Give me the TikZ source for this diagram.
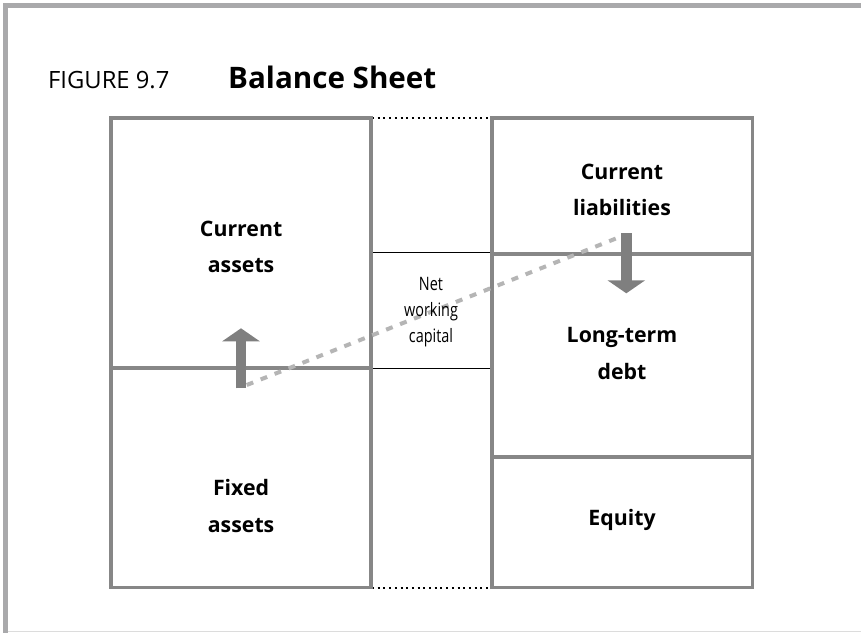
\documentclass[tikz,border=0pt]{standalone}
\usepackage{fontspec}
\setmainfont{Open Sans}
\newfontfamily\condfont[FakeStretch=0.78]{Open Sans}
\usetikzlibrary{arrows.meta}
\definecolor{boxgray}{HTML}{878787}
\definecolor{framegray}{HTML}{A9A9AB}
\definecolor{arrowgray}{HTML}{7F7F7F}
\definecolor{dashgray}{HTML}{B5B5B5}
\definecolor{rulegray}{HTML}{DCDCDC}
\tikzset{
  boxline/.style={draw=boxgray, line width=3.8pt},
  thinline/.style={draw=black, line width=1pt},
  dotline/.style={draw=black, line width=2pt, dash pattern=on 2pt off 3.7pt},
  bigarrow/.style={draw=arrowgray, line width=10.5pt, -{Triangle[length=13pt,width=37pt]}},
  nwcline/.style={draw=dashgray, line width=4pt, dash pattern=on 7pt off 8pt},
  lbl/.style={font=\fontsize{21.3}{36.5}\selectfont\bfseries, align=center, inner sep=0pt},
  nwc/.style={font=\condfont\fontsize{18.5}{25.8}\selectfont, align=center, inner sep=0pt}
}
\begin{document}
\begin{tikzpicture}[x=1pt,y=-1pt]
\useasboundingbox (0,0) rectangle (861,633);
\fill[white] (0,0) rectangle (861,633);
% frame
\fill[framegray] (3.3,3.3) rectangle (861,8.3);
\fill[framegray] (3.3,3.3) rectangle (8.3,633);
\draw[rulegray, line width=1pt] (8.3,631.5) -- (861,631.5);
% title
\node[anchor=base west, inner sep=0pt, font=\fontsize{23.8}{28}\selectfont] (fig) at (48,88.5) {FIGURE 9.7};
\node[anchor=base west, inner sep=0pt, font=\fontsize{29.6}{34}\selectfont\bfseries] (title) at (228,88.5) {Balance Sheet};
% middle dotted and thin lines
\coordinate (mt0) at (372,118.3); \coordinate (mt1) at (491,118.3);
\coordinate (mb0) at (372,587.5); \coordinate (mb1) at (491,587.5);
\draw[dotline] (mt0) -- (mt1);
\draw[dotline] (mb0) -- (mb1);
\coordinate (tl0) at (371,252.5); \coordinate (tl1) at (491.7,252.5);
\coordinate (bl0) at (371,368); \coordinate (bl1) at (491.7,368);
\draw[thinline] (tl0) -- (tl1);
\draw[thinline] (bl0) -- (bl1);
% left box
\draw[boxline] (111.2,118.3) rectangle (371,587.5);
\draw[boxline] (111.2,367.7) -- (371,367.7);
% right box
\draw[boxline] (491.7,118.3) rectangle (752.5,587.5);
\draw[boxline] (491.7,254) -- (752.5,254);
\draw[boxline] (491.7,457) -- (752.5,457);
% net working capital trend
\coordinate (d0) at (246.7,385);
\coordinate (d1) at (620.5,236.7);
\draw[nwcline] (d0) -- (d1);
% arrows
\coordinate (ua0) at (241,388.3); \coordinate (ua1) at (241,328.3);
\coordinate (da0) at (626.3,233.3); \coordinate (da1) at (626.3,293.3);
\draw[bigarrow] (ua0) -- (ua1);
\draw[bigarrow] (da0) -- (da1);
% labels
\node[lbl] (ca) at (241.1,247) {Current\\assets};
\node[lbl] (fa) at (241.1,506) {Fixed\\assets};
\node[lbl] (cl) at (622,190) {Current\\liabilities};
\node[lbl] (ltd) at (622,353.5) {Long-term\\debt};
\node[lbl] (eq) at (622,520) {Equity};
\node[nwc] (nwcl) at (431,312) {Net\\working\\capital};
\end{tikzpicture}
\end{document}
